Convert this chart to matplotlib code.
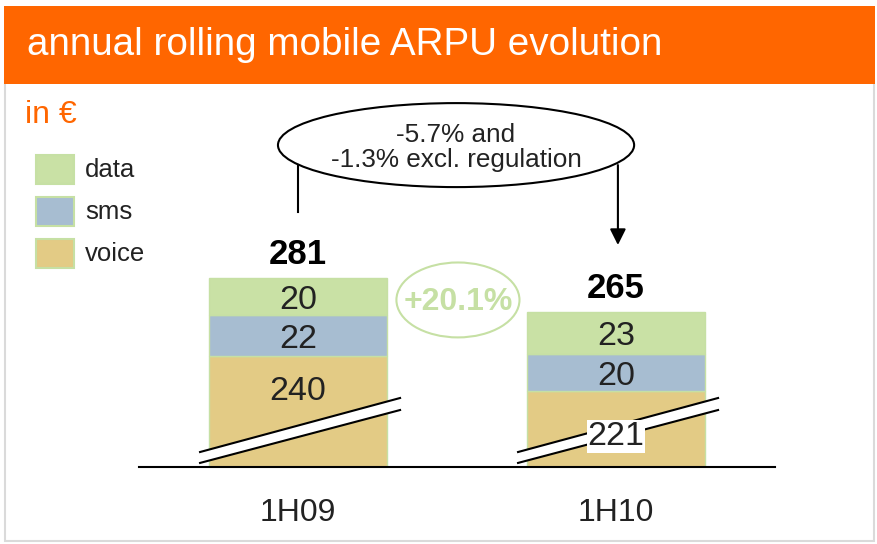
import matplotlib.pyplot as plt
from matplotlib.patches import Rectangle, Ellipse, Polygon

# chart values
periods = ['1H09', '1H10']
voice = [240, 221]
sms = [22, 20]
data = [20, 23]
totals = [281, 265]
series_names = ['data', 'sms', 'voice']
title = 'annual rolling mobile ARPU evolution'
unit_label = 'in €'
change_note = '-5.7% and\n-1.3% excl. regulation'
data_growth = '+20.1%'
axis_break = 180  # voice axis is cut at 180

ORANGE = '#ff6600'
C_DATA = '#c9e1a5'
C_SMS = '#a7bdd1'
C_VOICE = '#e3cb85'
EDGE = '#c6e0a4'
W, H = 877, 544
PX = 1.85  # pixels per euro on the bar axis

plt.rcParams['font.family'] = ['Liberation Sans', 'DejaVu Sans']
fig = plt.figure(figsize=(W / 100, H / 100), dpi=100)


def fx(px):
    return px / W


def fy(py):
    return 1 - py / H


# panel + header
fig.patches.append(Rectangle((fx(5), fy(541)), fx(869), (541 - 80) / H,
                             transform=fig.transFigure, fc='white',
                             ec='#dadada', lw=1.5, zorder=-2))
fig.patches.append(Rectangle((fx(4), fy(84)), fx(871), 78 / H,
                             transform=fig.transFigure, fc=ORANGE,
                             ec='none', zorder=-1))
fig.text(fx(27), fy(55), title, color='white', fontsize=27.8, va='baseline')
fig.text(fx(25), fy(123), unit_label, color=ORANGE, fontsize=23, va='baseline')

# legend
legend_colors = [C_DATA, C_SMS, C_VOICE]
for k, (name, col) in enumerate(zip(series_names, legend_colors)):
    top = 155 + k * 42
    fig.patches.append(Rectangle((fx(36), fy(top + 29)), fx(38), 29 / H,
                                 transform=fig.transFigure, fc=col,
                                 ec=EDGE, lw=1.5, zorder=-1))
    fig.text(fx(85), fy(top + 15), name, fontsize=18.5, va='center',
             color='#222222')

# bars
ax = fig.add_axes([fx(139), fy(467), fx(636), 377 / H], zorder=3)
ax.set_xlim(-0.5, 1.5)
ax.set_ylim(0, 377 / PX)
x = list(range(len(periods)))
voice_vis = [v - axis_break for v in voice]
sms_top = [v + s for v, s in zip(voice_vis, sms)]
bw = 0.56
ax.bar(x, voice_vis, bw, color=C_VOICE, edgecolor=EDGE, lw=1, zorder=2)
ax.bar(x, sms, bw, bottom=voice_vis, color=C_SMS, edgecolor=EDGE, lw=1, zorder=2)
ax.bar(x, data, bw, bottom=sms_top, color=C_DATA, edgecolor=EDGE, lw=1, zorder=2)

for s in ['top', 'left', 'right']:
    ax.spines[s].set_visible(False)
ax.spines['bottom'].set_color('black')
ax.spines['bottom'].set_linewidth(1.5)
ax.set_yticks([])
ax.set_xticks(x, periods, fontsize=23, color='#222222')
ax.tick_params(axis='x', length=0, pad=22.5)
ax.patch.set_alpha(0)

LBL = 24.5
DY = -1.9  # nudge labels down (va=center includes descent)
for i in x:
    # axis break band
    xl, xr = i - 0.308, i + 0.321
    ax.add_patch(Polygon([(xl, 2.2), (xr, 30.8), (xr, 37.3), (xl, 8.1)],
                         closed=True, fc='white', ec='none', zorder=3,
                         clip_on=False))
    ax.plot([xl, xr], [2.2, 30.8], color='black', lw=1.5, zorder=4, clip_on=False)
    ax.plot([xl, xr], [8.1, 37.3], color='black', lw=1.5, zorder=4, clip_on=False)

    ax.text(i, voice_vis[i] + sms[i] / 2 + DY, str(sms[i]), ha='center',
            va='center', fontsize=LBL, color='#222222', zorder=5)
    ax.text(i, sms_top[i] + data[i] / 2 + DY, str(data[i]), ha='center',
            va='center', fontsize=LBL, color='#222222', zorder=5)
    ax.text(i, sms_top[i] + data[i] + 14.5 + DY, str(totals[i]), ha='center',
            va='center', fontsize=25, fontweight='bold', color='black')

ax.text(0, 42.7 + DY, str(voice[0]), ha='center', va='center', fontsize=LBL,
        color='#222222', zorder=5)
ax.text(1, 18.4 + DY, str(voice[1]), ha='center', va='center', fontsize=LBL,
        color='#222222', zorder=5,
        bbox=dict(fc='white', ec='none', pad=0.5))

# change callout
ax.add_patch(Ellipse((0.497, 174), 1.12, 45.4, fill=False, ec='black',
                     lw=1.5, clip_on=False))
ax.text(0.497, 172.8, change_note, ha='center', va='center', fontsize=18.8,
        linespacing=1.04, color='#222222')
ax.plot([0, 0], [137.8, 163.2], color='black', lw=1.5)
ax.annotate('', xy=(1.006, 120), xytext=(1.006, 163.2),
            arrowprops=dict(arrowstyle='-|>', color='black', lw=1.5,
                            mutation_scale=24, shrinkA=0, shrinkB=0))

# data growth bubble
ax.add_patch(Ellipse((0.503, 90.3), 0.387, 40.5, fill=False, ec=EDGE, lw=1.5))
ax.text(0.503, 90.3 + DY * 0.7, data_growth, ha='center', va='center',
        fontsize=23, fontweight='bold', color=EDGE)

fig.savefig('out.png', dpi=100)
